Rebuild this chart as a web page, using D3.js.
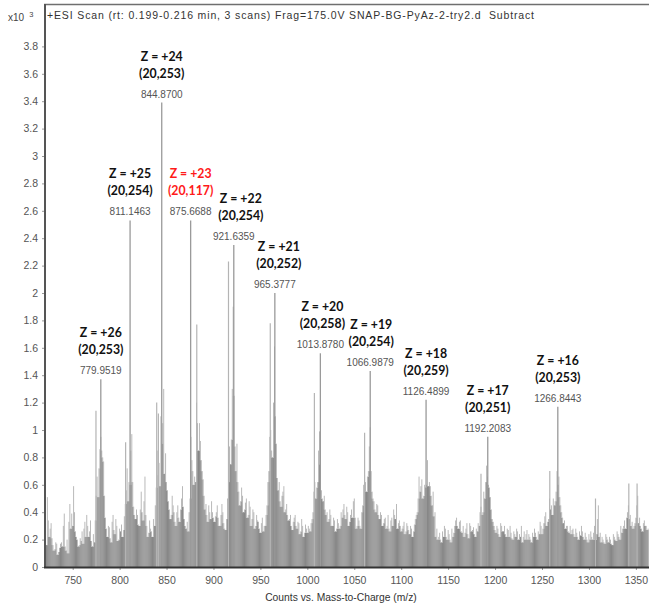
<!DOCTYPE html>
<html>
<head>
<meta charset="utf-8">
<script src="https://cdn.jsdelivr.net/npm/d3@7"></script>
<style>
  html, body { margin: 0; padding: 0; background: #fff; }
  svg { display: block; }
</style>
</head>
<body>
<svg id="chart" width="649" height="607"></svg>
<script>
// ---- Spectrum data (intensity in counts x10^3) ----

// Background profile at odd m/z, one value per 2 m/z starting at 721
const profileStart = 721;
const profileStep = 2;
const profile = [
  0.20, 0.51, 0.22, 0.32, 0.16, 0.13, 0.17, 0.11, 0.17, 0.15,   // 721-739
  0.39, 0.12, 0.10, 0.46, 0.39, 0.59, 0.26, 0.20, 0.16, 0.19,   // 741-759
  0.17, 0.33, 0.38, 0.22, 0.34, 0.15, 0.18, 0.52, 0.51, 0.86,   // 761-779
  0.85, 0.77, 0.36, 0.22, 0.29, 0.18, 0.38, 0.24, 0.30, 0.20,   // 781-799
  0.26, 0.22, 0.37, 0.56, 0.48, 0.60, 0.97, 0.44, 0.35, 0.38,   // 801-819
  0.30, 0.55, 0.34, 0.66, 0.30, 0.25, 0.28, 0.22, 0.30, 0.58,   // 821-839
  0.67, 0.59, 0.90, 1.30, 0.83, 0.56, 0.42, 0.38, 0.45, 0.33,   // 841-859
  0.40, 0.36, 0.42, 0.59, 0.35, 0.28, 0.26, 0.50, 0.78, 0.60,   // 861-879
  0.62, 1.05, 1.05, 0.78, 0.64, 0.42, 0.38, 0.45, 0.35, 0.40,   // 881-899
  0.33, 0.40, 0.36, 0.30, 0.46, 0.32, 0.27, 0.50, 0.88, 0.93,   // 901-919
  1.90, 0.88, 0.90, 0.55, 0.48, 0.52, 0.42, 0.50, 0.38, 0.44,   // 921-939
  0.35, 0.40, 0.30, 0.34, 0.28, 0.32, 0.26, 0.30, 0.45, 0.70,   // 941-959
  1.00, 0.80, 1.61, 0.90, 0.56, 0.48, 0.52, 0.59, 0.42, 0.38,   // 961-979
  0.35, 0.30, 0.33, 0.38, 0.28, 0.32, 0.26, 0.30, 0.25, 0.28,   // 981-999
  0.30, 0.26, 0.35, 0.55, 0.50, 0.62, 0.99, 0.56, 0.48, 0.42,   // 1001-1019
  0.40, 0.35, 0.38, 0.30, 0.34, 0.28, 0.32, 0.30, 0.36, 0.46,   // 1021-1039
  0.35, 0.40, 0.33, 0.42, 0.48, 0.36, 0.30, 0.34, 0.28, 0.45,   // 1041-1059
  0.67, 0.55, 0.70, 1.02, 0.55, 0.48, 0.40, 0.45, 0.35, 0.38,   // 1061-1079
  0.32, 0.36, 0.30, 0.28, 0.34, 0.30, 0.38, 0.46, 0.32, 0.30,   // 1081-1099
  0.28, 0.33, 0.26, 0.30, 0.24, 0.28, 0.26, 0.35, 0.40, 0.66,   // 1101-1119
  0.59, 0.50, 0.60, 0.60, 0.59, 0.59, 0.45, 0.37, 0.22, 0.20,   // 1121-1139
  0.25, 0.18, 0.22, 0.28, 0.20, 0.24, 0.18, 0.22, 0.30, 0.36,   // 1141-1159
  0.28, 0.34, 0.25, 0.22, 0.28, 0.24, 0.32, 0.26, 0.29, 0.22,   // 1161-1179
  0.26, 0.30, 0.44, 0.40, 0.50, 0.74, 0.60, 0.51, 0.35, 0.30,   // 1181-1199
  0.25, 0.28, 0.22, 0.30, 0.26, 0.24, 0.28, 0.22, 0.25, 0.20,   // 1201-1219
  0.24, 0.28, 0.20, 0.22, 0.18, 0.26, 0.24, 0.20, 0.22, 0.18,   // 1221-1239
  0.22, 0.25, 0.20, 0.24, 0.30, 0.28, 0.37, 0.30, 0.35, 0.42,   // 1241-1259
  0.38, 0.45, 0.55, 0.60, 0.51, 0.40, 0.32, 0.28, 0.30, 0.25,   // 1261-1279
  0.24, 0.28, 0.22, 0.25, 0.20, 0.23, 0.26, 0.20, 0.22, 0.18,   // 1281-1299
  0.20, 0.22, 0.25, 0.20, 0.35, 0.22, 0.18, 0.20, 0.17, 0.22,   // 1301-1319
  0.18, 0.20, 0.16, 0.22, 0.19, 0.24, 0.20, 0.25, 0.30, 0.28,   // 1321-1339
  0.40, 0.35, 0.30, 0.28, 0.32, 0.45, 0.32, 0.30, 0.26, 0.34,   // 1341-1359
  0.30, 0.28                                                    // 1361-1363
];

// Background profile at even m/z, starting at 722
const profileEvenStart = 722;
const profileEven = [
  0.16, 0.34, 0.28, 0.21, 0.12, 0.18, 0.09, 0.14, 0.18, 0.30,   // 722-740
  0.15, 0.20, 0.33, 0.28, 0.30, 0.40, 0.22, 0.15, 0.21, 0.26,   // 742-760
  0.28, 0.22, 0.30, 0.26, 0.19, 0.24, 0.34, 0.66, 0.72, 0.95,   // 762-780
  0.80, 0.52, 0.28, 0.30, 0.21, 0.33, 0.27, 0.35, 0.19, 0.28,   // 782-800
  0.31, 0.27, 0.46, 0.72, 0.62, 0.85, 0.62, 0.38, 0.42, 0.31,   // 802-820
  0.42, 0.40, 0.48, 0.38, 0.22, 0.34, 0.26, 0.35, 0.45, 0.85,   // 822-840
  0.76, 1.10, 1.05, 0.68, 0.62, 0.48, 0.35, 0.52, 0.40, 0.30,   // 842-860
  0.45, 0.33, 0.50, 0.44, 0.30, 0.33, 0.40, 0.95, 0.70, 0.66,   // 862-880
  1.20, 0.85, 0.92, 0.70, 0.52, 0.46, 0.33, 0.40, 0.48, 0.36,   // 882-900
  0.37, 0.45, 0.30, 0.38, 0.40, 0.28, 0.35, 0.62, 0.75, 1.30,   // 902-920
  1.25, 0.70, 0.62, 0.45, 0.58, 0.40, 0.47, 0.36, 0.48, 0.30,   // 922-940
  0.42, 0.28, 0.38, 0.33, 0.25, 0.36, 0.30, 0.38, 0.62, 0.95,   // 942-960
  0.85, 1.20, 1.10, 0.65, 0.62, 0.44, 0.55, 0.40, 0.46, 0.34,   // 962-980
  0.38, 0.27, 0.36, 0.30, 0.33, 0.24, 0.35, 0.22, 0.31, 0.25,   // 982-1000
  0.28, 0.32, 0.40, 0.62, 0.58, 0.85, 0.75, 0.50, 0.52, 0.38,   // 1002-1020
  0.33, 0.42, 0.30, 0.36, 0.26, 0.35, 0.28, 0.40, 0.42, 0.38,   // 1022-1040
  0.44, 0.30, 0.38, 0.36, 0.50, 0.28, 0.36, 0.30, 0.40, 0.60,   // 1042-1060
  0.62, 0.66, 0.88, 0.70, 0.50, 0.42, 0.46, 0.38, 0.40, 0.30,   // 1062-1080
  0.35, 0.28, 0.38, 0.26, 0.36, 0.42, 0.35, 0.28, 0.34, 0.26,   // 1082-1100
  0.30, 0.24, 0.32, 0.27, 0.30, 0.22, 0.31, 0.38, 0.50, 0.55,   // 1102-1120
  0.64, 0.52, 0.58, 0.78, 0.62, 0.52, 0.55, 0.40, 0.28, 0.22,   // 1122-1140
  0.20, 0.26, 0.30, 0.22, 0.27, 0.20, 0.28, 0.25, 0.34, 0.30,   // 1142-1160
  0.33, 0.26, 0.30, 0.25, 0.32, 0.21, 0.30, 0.27, 0.24, 0.28,   // 1162-1180
  0.32, 0.40, 0.38, 0.55, 0.62, 0.66, 0.58, 0.42, 0.33, 0.27,   // 1182-1200
  0.30, 0.24, 0.32, 0.26, 0.30, 0.22, 0.27, 0.30, 0.21, 0.26,   // 1202-1220
  0.22, 0.26, 0.24, 0.30, 0.22, 0.20, 0.27, 0.24, 0.20, 0.25,   // 1222-1240
  0.28, 0.22, 0.26, 0.33, 0.24, 0.32, 0.40, 0.33, 0.50, 0.45,   // 1242-1260
  0.50, 0.48, 0.70, 0.66, 0.45, 0.36, 0.34, 0.30, 0.26, 0.30,   // 1262-1280
  0.27, 0.24, 0.28, 0.22, 0.26, 0.30, 0.22, 0.25, 0.20, 0.24,   // 1282-1300
  0.26, 0.20, 0.30, 0.24, 0.45, 0.25, 0.22, 0.18, 0.24, 0.20,   // 1302-1320
  0.22, 0.17, 0.24, 0.20, 0.26, 0.22, 0.30, 0.28, 0.34, 0.36,   // 1322-1340
  0.45, 0.38, 0.33, 0.30, 0.36, 0.52, 0.36, 0.28, 0.32, 0.30,   // 1342-1360
  0.27                                                          // 1362
];

// Unlabelled sharp lines
const spikeMz     = [774.8, 806.4, 839.5, 841.3, 882.2, 916.0, 960.5, 1007.5, 1061.0, 1185.0, 1258.3, 1307.0, 1342.5, 1351.3];
const spikeHeight = [1.14,  0.91,  1.20,  1.12,  1.77,  2.23,  1.78,  1.27,   0.98,   0.68,   0.70,   0.50,   0.61,   0.61];

// Annotated charge-state peaks
const peakMz     = [779.9519, 811.1463, 844.8700, 875.6688, 921.6359, 965.3777, 1013.8780, 1066.9879, 1126.4899, 1192.2083, 1266.8443];
const peakHeight = [1.37,     2.53,     3.39,     2.53,     2.35,     2.00,     1.56,      1.43,      1.22,      0.95,      1.17];
const peakMzText = ["779.9519", "811.1463", "844.8700", "875.6688", "921.6359", "965.3777", "1013.8780", "1066.9879", "1126.4899", "1192.2083", "1266.8443"];
const peakCharge = ["Z = +26", "Z = +25", "Z = +24", "Z = +23", "Z = +22", "Z = +21", "Z = +20", "Z = +19", "Z = +18", "Z = +17", "Z = +16"];
const peakComp   = ["(20,253)", "(20,254)", "(20,253)", "(20,117)", "(20,254)", "(20,252)", "(20,258)", "(20,254)", "(20,259)", "(20,251)", "(20,253)"];
const peakFlag   = [false, false, false, true, false, false, false, false, false, false, false];

// Axis ticks
const xTicks = [750, 800, 850, 900, 950, 1000, 1050, 1100, 1150, 1200, 1250, 1300, 1350];
const yTicks = [0, 0.2, 0.4, 0.6, 0.8, 1, 1.2, 1.4, 1.6, 1.8, 2, 2.2, 2.4, 2.6, 2.8, 3, 3.2, 3.4, 3.6, 3.8];

const titleText = "+ESI Scan (rt: 0.199-0.216 min, 3 scans) Frag=175.0V SNAP-BG-PyAz-2-try2.d  Subtract";
const xAxisTitle = "Counts vs. Mass-to-Charge (m/z)";

// ---- Layout ----
const svg = d3.select("#chart");
const plot = { left: 45, right: 649, top: 5, bottom: 567 };

const x = d3.scaleLinear().domain([720.5, 1364]).range([plot.left, plot.right]);
const y = d3.scaleLinear().domain([0, 4.1]).range([plot.bottom, plot.top + 0.3]);

// Horizontal nudges for charge labels that sit off their line
const chargeNudge = { "Z = +22": 7, "Z = +21": 4, "Z = +20": 2, "Z = +19": 1 };

svg.append("clipPath").attr("id", "plotclip")
  .append("rect").attr("x", plot.left).attr("y", plot.top)
  .attr("width", plot.right - plot.left).attr("height", plot.bottom - plot.top);

const g = svg.append("g").attr("clip-path", "url(#plotclip)");

// merge odd and even samples into one profile ordered by m/z
const bins = profile.map((v, i) => ({ mz: profileStart + i * profileStep, v }))
  .concat(profileEven.map((v, i) => ({ mz: profileEvenStart + i * profileStep, v })))
  .sort((a, b) => a.mz - b.mz);
bins.forEach((d, i) => {
  const prev = bins[i - 1] ? bins[i - 1].v : d.v;
  const next = bins[i + 1] ? bins[i + 1].v : d.v;
  d.body = Math.min(prev, d.v, next);
});
const binW = x(profileStart + 1) - x(profileStart);

// darker body where neighbouring lines overlap
g.append("g").selectAll("rect").data(bins).join("rect")
  .attr("x", d => x(d.mz) - binW / 2)
  .attr("width", binW + 0.05)
  .attr("y", d => y(d.body))
  .attr("height", d => y(0) - y(d.body))
  .attr("fill", "#868686");

// light line of each profile sample above the body
g.append("g").selectAll("rect").data(bins.filter(d => d.v > d.body)).join("rect")
  .attr("x", d => x(d.mz) - 0.45)
  .attr("width", 0.9)
  .attr("y", d => y(d.v))
  .attr("height", d => y(d.body) - y(d.v))
  .attr("fill", "#b2b2b2");

// bright thin spikes
g.append("g").selectAll("line").data(spikeMz.map((m, i) => ({ m, h: spikeHeight[i] }))).join("line")
  .attr("x1", d => x(d.m)).attr("x2", d => x(d.m))
  .attr("y1", y(0)).attr("y2", d => y(d.h))
  .attr("stroke", "#b4b4b4").attr("stroke-width", 1.2);

// annotated peaks
const peaks = peakMz.map((m, i) => ({
  m, h: peakHeight[i], text: peakMzText[i], z: peakCharge[i], comp: peakComp[i], red: peakFlag[i]
}));

g.append("g").selectAll("line").data(peaks).join("line")
  .attr("x1", d => x(d.m)).attr("x2", d => x(d.m))
  .attr("y1", y(0)).attr("y2", d => y(d.h))
  .attr("stroke", "#9a9a9a").attr("stroke-width", 1.3);

// ---- Frame and axes ----
svg.append("line").attr("x1", plot.left - 1).attr("x2", plot.right)
  .attr("y1", plot.top - 0.5).attr("y2", plot.top - 0.5)
  .attr("stroke", "#6f6f6f").attr("stroke-width", 1.6);

const yAxis = d3.axisLeft(y).tickValues(yTicks).tickSize(3).tickPadding(4)
  .tickFormat(d => String(+d.toFixed(1)));
const yg = svg.append("g").attr("transform", `translate(${plot.left},0)`).call(yAxis);
yg.select(".domain").remove();
yg.selectAll(".tick line").attr("stroke", "#9a9a9a");
yg.selectAll(".tick text").attr("fill", "#555").attr("font-family", "Liberation Sans, Arial, sans-serif").attr("font-size", 10.5);

const xAxis = d3.axisBottom(x).tickValues(xTicks).tickSize(3).tickPadding(7).tickFormat(d3.format("d"));
const xg = svg.append("g").attr("transform", `translate(0,${plot.bottom})`).call(xAxis);
xg.select(".domain").remove();
xg.selectAll(".tick line").attr("stroke", "#9a9a9a");
xg.selectAll(".tick text").attr("fill", "#555").attr("font-family", "Liberation Sans, Arial, sans-serif").attr("font-size", 10.5);

svg.append("line").attr("x1", plot.left).attr("x2", plot.left)
  .attr("y1", plot.top - 1).attr("y2", plot.bottom + 1)
  .attr("stroke", "#555").attr("stroke-width", 2);
svg.append("line").attr("x1", plot.left - 1).attr("x2", plot.right)
  .attr("y1", plot.bottom + 0.5).attr("y2", plot.bottom + 0.5)
  .attr("stroke", "#333").attr("stroke-width", 2);

// ---- Texts ----
svg.append("text").attr("x", 47).attr("y", 19)
  .attr("font-family", "Liberation Sans, Arial, sans-serif").attr("font-size", 10.5)
  .attr("textLength", 487).attr("lengthAdjust", "spacing")
  .attr("fill", "#333").attr("xml:space", "preserve").text(titleText);

const mult = svg.append("text").attr("x", 8).attr("y", 21)
  .attr("font-family", "Liberation Sans, Arial, sans-serif").attr("fill", "#444");
mult.append("tspan").attr("font-size", 10).text("x10");
mult.append("tspan").attr("font-size", 7.5).attr("dx", 5).attr("dy", -4).text("3");

svg.append("text").attr("x", 341).attr("y", 601)
  .attr("text-anchor", "middle")
  .attr("font-family", "Liberation Sans, Arial, sans-serif").attr("font-size", 10.3)
  .attr("fill", "#333").text(xAxisTitle);

const labels = svg.append("g");
peaks.forEach(d => {
  const px = x(d.m);
  const base = y(d.h) - 5;
  const nudge = chargeNudge[d.z] || 0;
  labels.append("text").attr("x", px).attr("y", base)
    .attr("text-anchor", "middle")
    .attr("font-family", "Liberation Sans, Arial, sans-serif").attr("font-size", 10)
    .attr("fill", "#555").text(d.text);
  const col = d.red ? "#ff1a1a" : "#111";
  labels.append("text").attr("x", px + nudge).attr("y", base - 20)
    .attr("text-anchor", "middle")
    .attr("font-family", "Lato, Carlito, sans-serif").attr("font-weight", "bold").attr("font-size", 12.3)
    .attr("fill", col).text(d.comp);
  labels.append("text").attr("x", px + nudge).attr("y", base - 37)
    .attr("text-anchor", "middle")
    .attr("font-family", "Lato, Carlito, sans-serif").attr("font-weight", "bold").attr("font-size", 12.3)
    .attr("fill", col).text(d.z);
});
</script>
</body>
</html>
